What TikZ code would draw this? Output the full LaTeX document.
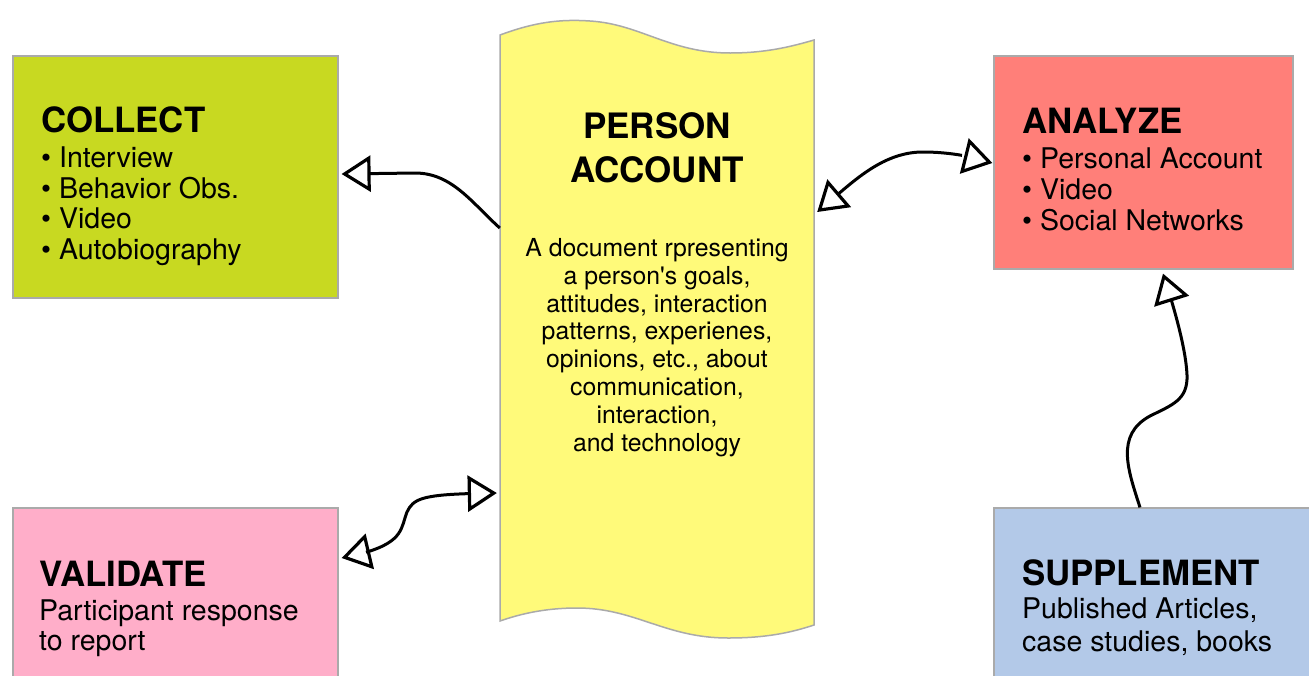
\documentclass[tikz,border=0pt]{standalone}
\usepackage{fontspec}
\setmainfont{TeX Gyre Heros}
\usetikzlibrary{arrows.meta,bending,calc}

\definecolor{collectgreen}{RGB}{200,217,33}
\definecolor{analyzered}{RGB}{255,127,121}
\definecolor{validatepink}{RGB}{255,174,201}
\definecolor{supplementblue}{RGB}{179,201,232}
\definecolor{docyellow}{RGB}{255,250,122}
\definecolor{edgegray}{RGB}{170,170,170}

\tikzset{
  box/.style={draw=edgegray, line width=1.2pt, inner sep=0pt, minimum width=#1},
  head/.style={anchor=base west, inner sep=0pt, font=\fontsize{34.8}{40}\selectfont\bfseries},
  item/.style={anchor=base west, inner sep=0pt, font=\fontsize{28.5}{32}\selectfont},
  dochead/.style={anchor=base, inner sep=0pt, font=\fontsize{35}{40}\selectfont\bfseries},
  doctext/.style={anchor=base, inner sep=0pt, font=\fontsize{24.8}{28}\selectfont},
  opentip/.tip={Triangle[open, length=29pt, width=36pt, line width=3.2pt]},
  conn/.style={line width=3pt, black, -opentip},
  dconn/.style={line width=3pt, black, opentip-opentip},
}

\begin{document}
\begin{tikzpicture}[x=1pt, y=-1pt]
  \clip (0,0) rectangle (1309,675);
  \fill[white] (0,0) rectangle (1309,675);

  % coloured boxes
  \node[box=325pt, minimum height=242pt, fill=collectgreen] (coll) at (175.5,177) {};
  \node[box=299pt, minimum height=213pt, fill=analyzered] (anal) at (1143.5,162.5) {};
  \node[box=325pt, minimum height=220pt, fill=validatepink] (vali) at (175.5,618) {};
  \node[box=330pt, minimum height=220pt, fill=supplementblue] (supp) at (1159,618) {};

  % the account document with wavy top and bottom
  \node[inner sep=0pt, minimum width=314pt, minimum height=610pt] (doc) at (657,330) {};
  \draw[draw=edgegray, line width=1.5pt, fill=docyellow]
    (500,35) .. controls (535,22) and (560,19) .. (590,21)
             .. controls (640,24) and (670,53) .. (730,53)
             .. controls (765,53) and (790,47) .. (814,40)
    -- (814,625)
             .. controls (790,633) and (765,638) .. (728,638)
             .. controls (665,638) and (635,608) .. (577,608)
             .. controls (545,608) and (520,614) .. (500,621)
    -- cycle;

  % COLLECT
  \node[head] (collH) at (41,132) {COLLECT};
  \node[item] (coll1) at (41,167) {• Interview};
  \node[item] (coll2) at (41,198) {• Behavior Obs.};
  \node[item] (coll3) at (41,228) {• Video};
  \node[item] (coll4) at (41,259) {• Autobiography};

  % ANALYZE
  \node[head] (analH) at (1022,133) {ANALYZE};
  \node[item] (anal1) at (1022,168) {• Personal Account};
  \node[item] (anal2) at (1022,199) {• Video};
  \node[item] (anal3) at (1022,230) {• Social Networks};

  % VALIDATE
  \node[head] (valiH) at (39,586) {VALIDATE};
  \node[item] (vali1) at (39,620) {Participant response};
  \node[item] (vali2) at (39,650) {to report};

  % SUPPLEMENT
  \node[head] (suppH) at (1022,585) {SUPPLEMENT};
  \node[item] (supp1) at (1022,618) {Published Articles,};
  \node[item] (supp2) at (1022,651) {case studies, books};

  % PERSON ACCOUNT
  \node[dochead] (docH1) at (657,138) {PERSON};
  \node[dochead] (docH2) at (657,182) {ACCOUNT};
  \node[doctext] (doc1) at (657,256) {A document rpresenting};
  \node[doctext] (doc2) at (657,284) {a person\textquotesingle s goals,};
  \node[doctext] (doc3) at (657,312) {attitudes, interaction};
  \node[doctext] (doc4) at (657,339.5) {patterns, experienes,};
  \node[doctext] (doc5) at (657,367) {opinions, etc., about};
  \node[doctext] (doc6) at (657,395) {communication,};
  \node[doctext] (doc7) at (657,423) {interaction,};
  \node[doctext] (doc8) at (657,451) {and technology};

  % connectors
  \draw[conn] (doc.west |- 0,228) .. controls (472,203) and (452,173) .. (415,173)
    -- ($(coll.east |- 0,174)+(3,0)$);
  \draw[dconn] ($(vali.east |- 0,558)+(3,0)$)
    .. controls (405,546) and (400,530) .. (407,512)
    .. controls (414,497) and (425,494) .. ($(doc.west |- 0,493)+(-3,0)$);
  \draw[dconn] ($(doc.east |- 0,212)+(3,0)$)
    .. controls (850,185) and (880,152) .. (923,152)
    .. controls (950,152) and (975,157) .. ($(anal.west |- 0,163)+(-1,0)$);
  \draw[conn] (1140,0 |- supp.north)
    .. controls (1128,470) and (1115,435) .. (1150,416)
    .. controls (1172,405) and (1188,400) .. (1187,375)
    .. controls (1186,350) and (1175,310) .. ($(1163,0 |- anal.south)+(0,4)$);
\end{tikzpicture}
\end{document}
